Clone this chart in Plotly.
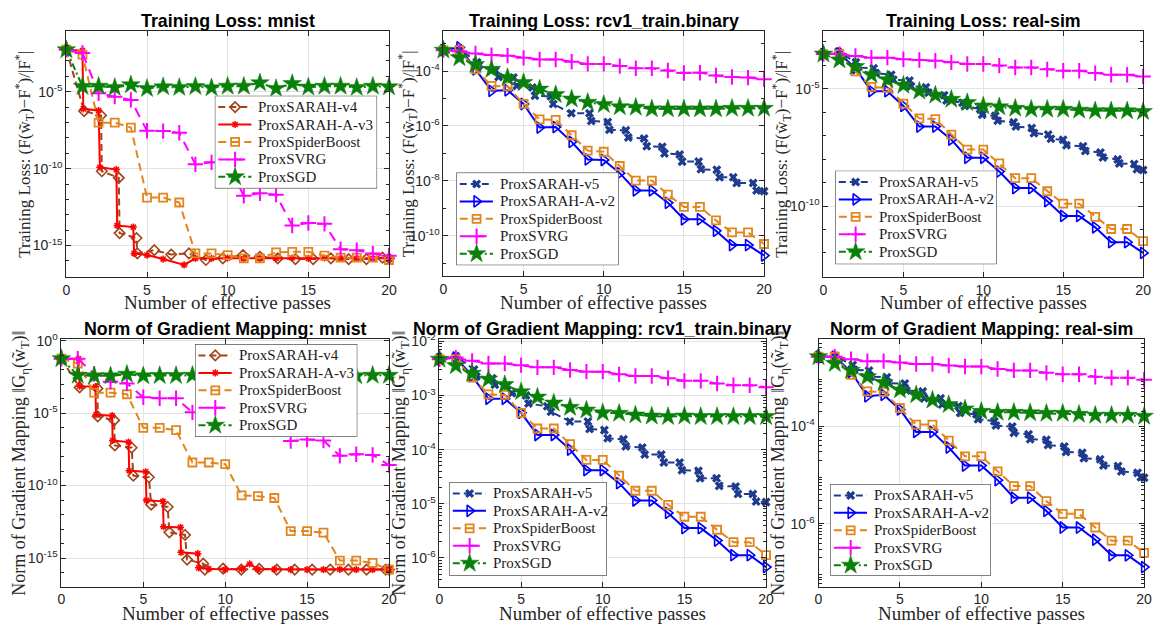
import numpy as np
import plotly.graph_objects as go

W, H = 1163, 625
passes = list(range(21))

# ---------------- data (log10 of values) ----------------
# Panel A: Training Loss, mnist
A_v4_x = [0, 1.1, 2.15, 2.2, 3.25, 3.3, 4.35, 4.4, 5.45, 6.5, 7.6, 8.65, 9.7, 10.95, 12.0, 13.1, 14.2, 15.3, 16.4, 17.5, 18.6, 19.6, 20]
A_v4_y = [-2.27, -6.26, -6.54, -10.17, -10.60, -14.19, -14.51, -15.51, -15.30, -15.58, -15.51, -15.94, -15.83, -15.62, -15.73, -15.83, -15.88, -15.88, -15.83, -15.88, -15.88, -15.79, -15.83]
A_Av3_x = [0, 1.0, 1.05, 2.0, 2.08, 3.1, 3.15, 4.15, 4.2, 5.0, 6.0, 7.3, 8.0, 9, 10, 11, 12, 13, 14, 15, 16, 17, 18, 19, 20]
A_Av3_y = [-2.27, -2.33, -6.11, -6.22, -9.91, -10.06, -13.70, -13.80, -15.51, -15.62, -15.88, -16.26, -15.83, -15.83, -15.81, -15.85, -15.83, -15.83, -15.81, -15.83, -15.81, -15.83, -15.83, -15.83, -15.83]
A_spider_y = [-2.27, -2.59, -7.01, -7.01, -7.33, -11.88, -11.88, -12.20, -15.51, -15.51, -15.62, -15.83, -15.83, -15.45, -15.41, -15.41, -15.66, -15.79, -15.79, -15.79, -15.94]
A_svrg_y = [-2.27, -2.48, -5.10, -5.32, -5.53, -7.54, -7.56, -7.67, -9.72, -9.59, -9.65, -11.77, -11.60, -11.69, -13.70, -13.53, -13.59, -15.24, -15.30, -15.51, -15.66]
A_sgd_y = [-2.27, -4.66, -4.64, -4.72, -4.55, -4.79, -4.68, -4.72, -4.66, -4.74, -4.64, -4.64, -4.42, -4.79, -4.47, -4.70, -4.64, -4.64, -4.72, -4.64, -4.68]

# Panel B: Training Loss, rcv1_train.binary
B_v5_x = [0, 0.97, 2.1, 2.2, 3.24, 3.44, 4.37, 4.58, 5.55, 5.71, 6.7, 6.85, 7.98, 9.11, 9.22, 10.25, 10.35, 11.38, 11.53, 12.52, 12.68, 13.65, 13.79, 14.74, 14.89, 15.92, 16.06, 17.05, 17.22, 18.08, 18.29, 19.32, 19.53, 20]
B_v5_y = [-3.24, -3.18, -3.68, -3.80, -3.98, -4.22, -4.24, -4.54, -4.60, -4.90, -4.92, -5.20, -5.54, -5.54, -5.82, -5.86, -6.14, -6.16, -6.42, -6.46, -6.74, -6.76, -7.00, -7.04, -7.30, -7.30, -7.58, -7.60, -7.87, -7.87, -8.08, -8.08, -8.35, -8.38]
B_Av2_y = [-3.24, -3.14, -3.94, -4.72, -4.70, -5.20, -6.06, -6.04, -6.58, -7.22, -7.24, -7.72, -8.35, -8.35, -8.80, -9.40, -9.40, -9.82, -10.34, -10.34, -10.72]
B_spider_y = [-3.24, -3.24, -3.94, -4.54, -4.56, -5.20, -5.76, -5.78, -6.34, -6.90, -6.94, -7.46, -7.99, -7.99, -8.50, -8.95, -8.95, -9.44, -9.88, -9.88, -10.30]
B_svrg_y = [-3.24, -3.28, -3.36, -3.42, -3.44, -3.52, -3.58, -3.58, -3.66, -3.74, -3.74, -3.82, -3.90, -3.90, -3.98, -4.07, -4.06, -4.16, -4.22, -4.24, -4.30]
B_sgd_y = [-3.24, -3.52, -3.76, -3.94, -4.24, -4.42, -4.66, -4.86, -5.02, -5.14, -5.22, -5.30, -5.32, -5.38, -5.38, -5.38, -5.38, -5.38, -5.36, -5.36, -5.36]

# Panel C: Training Loss, real-sim
C_v5_x = [0, 0.93, 2.03, 2.13, 3.14, 3.27, 4.24, 4.37, 5.38, 5.48, 6.41, 6.57, 7.55, 7.7, 8.7, 8.85, 9.8, 9.93, 10.75, 10.9, 11.9, 12.04, 13.03, 13.17, 14.06, 14.23, 14.99, 15.2, 16.24, 16.38, 17.33, 17.48, 18.41, 18.51, 19.44, 19.61, 20]
C_v5_y = [-3.52, -3.42, -3.87, -4.09, -4.12, -4.33, -4.40, -4.61, -4.65, -4.89, -4.93, -5.17, -5.27, -5.50, -5.59, -5.73, -5.87, -6.11, -6.15, -6.36, -6.43, -6.61, -6.67, -6.89, -6.95, -7.13, -7.17, -7.41, -7.45, -7.65, -7.72, -7.93, -8.01, -8.18, -8.21, -8.43, -8.46]
C_Av2_y = [-3.52, -3.49, -4.12, -5.10, -5.10, -5.73, -6.61, -6.61, -7.17, -7.94, -7.94, -8.53, -9.23, -9.23, -9.79, -10.42, -10.42, -10.91, -11.54, -11.54, -12.00]
C_spider_y = [-3.52, -3.52, -4.26, -4.92, -4.96, -5.63, -6.26, -6.29, -6.95, -7.59, -7.59, -8.18, -8.81, -8.81, -9.37, -9.90, -9.90, -10.46, -10.98, -10.98, -11.50]
C_svrg_y = [-3.52, -3.52, -3.60, -3.67, -3.67, -3.74, -3.77, -3.80, -3.87, -3.94, -3.94, -4.01, -4.09, -4.09, -4.17, -4.23, -4.23, -4.33, -4.40, -4.40, -4.47]
C_sgd_y = [-3.52, -3.77, -4.05, -4.40, -4.61, -4.85, -5.10, -5.27, -5.45, -5.59, -5.73, -5.77, -5.83, -5.87, -5.87, -5.87, -5.91, -5.94, -5.94, -5.94, -5.97]

# Panel D: Norm of Gradient Mapping, mnist
D_v4_x = [0, 1.11, 2.2, 2.22, 3.22, 3.26, 4.29, 4.39, 5.34, 5.48, 6.49, 6.59, 7.55, 7.67, 8.66, 8.76, 9.87, 10.98, 12.08, 13.15, 14.24, 15.31, 16.41, 17.52, 18.63, 19.8, 20]
D_v4_y = [-1.25, -3.23, -3.30, -5.23, -5.50, -7.23, -7.39, -9.32, -9.43, -11.32, -11.48, -13.23, -13.41, -15.11, -15.39, -15.80, -15.73, -15.80, -15.75, -15.80, -15.80, -15.80, -15.80, -15.80, -15.80, -15.80, -15.80]
D_Av3_x = [0, 1.05, 1.11, 2.08, 2.11, 3.1, 3.13, 4.1, 4.14, 5.15, 5.19, 6.2, 6.24, 7.27, 7.3, 8.33, 8.38, 9, 10, 11, 11.5, 12, 13, 14, 15, 16, 17, 18, 19, 20]
D_Av3_y = [-1.25, -1.25, -3.14, -3.18, -5.11, -5.18, -6.89, -7.0, -8.98, -9.05, -11.02, -11.09, -12.84, -12.89, -14.61, -14.70, -15.68, -15.75, -15.80, -15.75, -15.41, -15.78, -15.78, -15.80, -15.80, -15.80, -15.78, -15.80, -15.80, -15.80]
D_spider_y = [-1.25, -1.59, -3.59, -3.59, -3.70, -6.02, -6.02, -6.18, -8.41, -8.41, -8.52, -10.68, -10.73, -10.86, -13.14, -13.14, -13.25, -15.18, -15.18, -15.34, -15.80]
D_svrg_y = [-1.25, -1.25, -2.30, -2.84, -2.95, -3.91, -3.98, -3.98, -4.95, -4.98, -5.00, -5.91, -5.93, -6.00, -6.93, -6.82, -6.89, -7.95, -7.84, -7.89, -8.59]
D_sgd_y = [-1.25, -2.39, -2.43, -2.43, -2.32, -2.43, -2.41, -2.41, -2.39, -2.43, -2.41, -2.41, -2.39, -2.41, -2.41, -2.41, -2.41, -2.41, -2.43, -2.39, -2.39]

# Panel E: Norm of Gradient Mapping, rcv1_train.binary
E_v5_x = [0, 1.0, 2.12, 2.26, 3.23, 3.39, 4.14, 4.44, 5.3, 5.45, 6.6, 6.83, 7.98, 9.09, 9.19, 10.1, 10.3, 11.27, 11.41, 12.42, 12.57, 13.58, 13.74, 14.71, 14.85, 15.86, 15.96, 16.97, 17.13, 18.14, 18.28, 19.19, 19.39, 20]
E_v5_y = [-2.33, -2.27, -2.52, -2.65, -2.68, -2.80, -2.82, -2.96, -3.00, -3.15, -3.20, -3.30, -3.48, -3.48, -3.62, -3.64, -3.79, -3.81, -3.94, -3.96, -4.09, -4.09, -4.24, -4.24, -4.38, -4.39, -4.53, -4.53, -4.67, -4.68, -4.82, -4.82, -4.96, -4.97]
E_Av2_y = [-2.33, -2.30, -2.64, -3.06, -3.06, -3.32, -3.73, -3.73, -4.00, -4.38, -4.38, -4.62, -4.94, -4.94, -5.17, -5.45, -5.45, -5.68, -5.95, -5.95, -6.17]
E_spider_y = [-2.33, -2.33, -2.67, -2.98, -2.99, -3.32, -3.61, -3.61, -3.90, -4.19, -4.19, -4.48, -4.76, -4.76, -5.02, -5.24, -5.24, -5.48, -5.71, -5.71, -5.95]
E_svrg_y = [-2.33, -2.30, -2.36, -2.41, -2.41, -2.44, -2.48, -2.48, -2.53, -2.56, -2.56, -2.61, -2.64, -2.64, -2.68, -2.73, -2.73, -2.78, -2.81, -2.81, -2.85]
E_sgd_y = [-2.33, -2.45, -2.59, -2.70, -2.80, -2.93, -3.03, -3.14, -3.22, -3.27, -3.32, -3.33, -3.36, -3.38, -3.39, -3.38, -3.39, -3.39, -3.39, -3.39, -3.39]

# Panel F: Norm of Gradient Mapping, real-sim
F_v5_x = [0, 1.0, 2.1, 2.2, 3.1, 3.2, 4.2, 4.3, 5.3, 5.4, 6.4, 6.5, 7.5, 7.6, 8.6, 8.7, 9.7, 9.8, 10.8, 10.9, 11.9, 12.0, 12.9, 13.0, 14.0, 14.1, 15.1, 15.2, 16.2, 16.3, 17.3, 17.5, 18.4, 18.6, 19.6, 19.8, 20]
F_v5_y = [-2.58, -2.56, -2.75, -2.85, -2.86, -2.99, -3.00, -3.12, -3.13, -3.27, -3.29, -3.43, -3.43, -3.56, -3.59, -3.73, -3.76, -3.86, -3.90, -3.99, -4.01, -4.14, -4.17, -4.27, -4.28, -4.39, -4.42, -4.53, -4.55, -4.66, -4.68, -4.81, -4.82, -4.93, -4.96, -5.05, -5.06]
F_Av2_y = [-2.58, -2.58, -2.89, -3.39, -3.36, -3.66, -4.12, -4.12, -4.44, -4.81, -4.81, -5.11, -5.47, -5.47, -5.74, -6.08, -6.08, -6.33, -6.65, -6.65, -6.89]
F_spider_y = [-2.58, -2.58, -2.95, -3.29, -3.30, -3.63, -3.97, -3.97, -4.30, -4.62, -4.62, -4.93, -5.23, -5.23, -5.54, -5.80, -5.80, -6.08, -6.35, -6.35, -6.60]
F_svrg_y = [-2.58, -2.58, -2.63, -2.67, -2.67, -2.70, -2.73, -2.73, -2.76, -2.78, -2.78, -2.83, -2.86, -2.86, -2.91, -2.94, -2.94, -2.99, -3.01, -3.01, -3.05]
F_sgd_y = [-2.58, -2.72, -2.86, -2.99, -3.11, -3.26, -3.36, -3.47, -3.56, -3.65, -3.70, -3.72, -3.72, -3.73, -3.74, -3.74, -3.76, -3.78, -3.78, -3.78, -3.80]

titles = ["Training Loss: mnist", "Training Loss: rcv1_train.binary", "Training Loss: real-sim",
          "Norm of Gradient Mapping: mnist", "Norm of Gradient Mapping: rcv1_train.binary",
          "Norm of Gradient Mapping: real-sim"]
x_tick_vals = [0, 5, 10, 15, 20]
y_tick_exps = [[-15, -10, -5], [-10, -8, -6, -4], [-10, -5],
               [-15, -10, -5, 0], [-6, -5, -4, -3, -2], [-6, -4]]
xlabel = "Number of effective passes"
ylabel_loss = "Training Loss: (F(w̃<sub>T</sub>)−F<sup>*</sup>)/|F<sup>*</sup>|"
ylabel_grad = "Norm of Gradient Mapping ‖G<sub>η</sub>(w̃<sub>T</sub>)‖"

# ---------------- styles ----------------
BROWN, RED, ORANGE, MAG, GREEN, NAVY, BLUE = "#A2431A", "#FF0000", "#E2851C", "#FF00FF", "#0A800A", "#1F3B8E", "#0000FF"
STY = {
    "ProxSARAH-v4": dict(color=BROWN, dash="7px,4px", symbol="diamond-open", size=8, mlw=1.6),
    "ProxSARAH-A-v3": dict(color=RED, dash="solid", symbol="asterisk-open", size=6, mlw=1.5),
    "ProxSpiderBoost": dict(color=ORANGE, dash="8px,5px", symbol="square-open", size=8, mlw=1.8),
    "ProxSVRG": dict(color=MAG, dash="10px,7px", symbol="cross-thin-open", size=11, mlw=2),
    "ProxSGD": dict(color=GREEN, dash="7px,3px,2px,3px", symbol="star", size=14, mlw=0.5),
    "ProxSARAH-v5": dict(color=NAVY, dash="7px,4px", symbol="x", size=8, mlw=0),
    "ProxSARAH-A-v2": dict(color=BLUE, dash="solid", symbol="triangle-right-open", size=10, mlw=1.6),
}

panels = [
    dict(series=[("ProxSARAH-v4", A_v4_x, A_v4_y), ("ProxSARAH-A-v3", A_Av3_x, A_Av3_y),
                 ("ProxSpiderBoost", passes, A_spider_y), ("ProxSVRG", passes, A_svrg_y), ("ProxSGD", passes, A_sgd_y)],
         px=(63, 389), py=(22, 272), yr=(-17.05, -1.03), minor="dec", ylab=ylabel_loss, ylx=21,
         leg=(213, 88, 164, 94)),
    dict(series=[("ProxSARAH-v5", B_v5_x, B_v5_y), ("ProxSARAH-A-v2", passes, B_Av2_y),
                 ("ProxSpiderBoost", passes, B_spider_y), ("ProxSVRG", passes, B_svrg_y), ("ProxSGD", passes, B_sgd_y)],
         px=(444, 768), py=(22, 271), yr=(-11.47, -2.53), minor="dec", ylab=ylabel_loss, ylx=408,
         leg=(457, 166, 164, 94)),
    dict(series=[("ProxSARAH-v5", C_v5_x, C_v5_y), ("ProxSARAH-A-v2", passes, C_Av2_y),
                 ("ProxSpiderBoost", passes, C_spider_y), ("ProxSVRG", passes, C_svrg_y), ("ProxSGD", passes, C_sgd_y)],
         px=(828, 1151), py=(22, 272), yr=(-13.03, -2.52), minor="dec", ylab=ylabel_loss, ylx=786,
         leg=(840, 164, 163, 95)),
    dict(series=[("ProxSARAH-v4", D_v4_x, D_v4_y), ("ProxSARAH-A-v3", D_Av3_x, D_Av3_y),
                 ("ProxSpiderBoost", passes, D_spider_y), ("ProxSVRG", passes, D_svrg_y), ("ProxSGD", passes, D_sgd_y)],
         px=(58, 389), py=(335, 586), yr=(-16.97, 0.1), minor="dec", ylab=ylabel_grad, ylx=17,
         leg=(193, 340, 164, 94)),
    dict(series=[("ProxSARAH-v5", E_v5_x, E_v5_y), ("ProxSARAH-A-v2", passes, E_Av2_y),
                 ("ProxSpiderBoost", passes, E_spider_y), ("ProxSVRG", passes, E_svrg_y), ("ProxSGD", passes, E_sgd_y)],
         px=(440, 770), py=(335, 586), yr=(-6.53, -1.96), minor="sub", ylab=ylabel_grad, ylx=401,
         leg=(450, 480, 159, 95)),
    dict(series=[("ProxSARAH-v5", F_v5_x, F_v5_y), ("ProxSARAH-A-v2", passes, F_Av2_y),
                 ("ProxSpiderBoost", passes, F_spider_y), ("ProxSVRG", passes, F_svrg_y), ("ProxSGD", passes, F_sgd_y)],
         px=(823, 1152), py=(335, 586), yr=(-7.29, -2.22), minor="sub", ylab=ylabel_grad, ylx=784,
         leg=(835, 482, 162, 93)),
]

AXC = "#262626"
GRID = "#E3E3E3"
TICKFONT = dict(family="Liberation Sans, Arial, sans-serif", size=14, color=AXC)
SERIF = "Liberation Serif, DejaVu Serif, serif"

fig = go.Figure()
layout = dict(width=W, height=H, margin=dict(l=0, r=0, t=0, b=0),
              paper_bgcolor="white", plot_bgcolor="white", showlegend=False, annotations=[])

# main data panels
for i, p in enumerate(panels):
    k = "" if i == 0 else str(i + 1)
    for name, xs, ys in p["series"]:
        s = STY[name]
        fig.add_trace(go.Scatter(
            x=xs, y=(10.0 ** np.array(ys)).tolist(), name=name, mode="lines+markers",
            xaxis="x" + k, yaxis="y" + k, cliponaxis=False, showlegend=False,
            line=dict(color=s["color"], width=2, dash=s["dash"]),
            marker=dict(symbol=s["symbol"], size=s["size"], color=s["color"],
                        line=dict(color=s["color"], width=s["mlw"])),
        ))
    x0, x1 = p["px"]
    y0, y1 = p["py"]
    exps = y_tick_exps[i]
    lo, hi = p["yr"]
    if p["minor"] == "dec":
        mvals = [10.0 ** e for e in range(int(np.floor(lo)), int(np.ceil(hi)) + 1) if e not in exps]
    else:
        mvals = [m * 10.0 ** e for e in range(int(np.floor(lo)) - 1, int(np.ceil(hi)) + 1) for m in range(2, 10)]
    layout["xaxis" + k] = dict(
        domain=[x0 / W, x1 / W], anchor="y" + k, range=[0, 20], tickvals=x_tick_vals,
        ticks="inside", ticklen=5, tickcolor=AXC, showline=True, linecolor=AXC, linewidth=1,
        mirror="ticks", showgrid=True, gridcolor=GRID, zeroline=False, tickfont=TICKFONT)
    layout["yaxis" + k] = dict(
        domain=[1 - y1 / H, 1 - y0 / H], anchor="x" + k, type="log", range=[lo, hi],
        tickvals=[10.0 ** e for e in exps], ticktext=["10<sup>%d</sup>" % e for e in exps],
        ticks="inside", ticklen=5, tickcolor=AXC, showline=True, linecolor=AXC, linewidth=1,
        mirror="ticks", showgrid=True, gridcolor=GRID, zeroline=False, tickfont=TICKFONT,
        minor=dict(tickvals=mvals, ticks="inside", ticklen=3, tickcolor=AXC, showgrid=False))
    cx = (x0 + x1) / 2
    ty = 12 if i < 3 else 325
    layout["annotations"].append(dict(
        text="<b>%s</b>" % titles[i], x=cx / W, y=1 - ty / H, xref="paper", yref="paper",
        xanchor="center", yanchor="middle", showarrow=False,
        font=dict(family="Liberation Sans, Arial, sans-serif", size=17.8, color="black")))
    xly = 298 if i < 3 else 613
    layout["annotations"].append(dict(
        text=xlabel, x=cx / W, y=1 - xly / H, xref="paper", yref="paper",
        xanchor="center", yanchor="middle", showarrow=False,
        font=dict(family=SERIF, size=19, color=AXC)))
    layout["annotations"].append(dict(
        text=p["ylab"], x=p["ylx"] / W, y=1 - ((y0 + y1) / 2) / H, xref="paper", yref="paper",
        xanchor="center", yanchor="middle", showarrow=False, textangle=-90,
        font=dict(family=SERIF, size=18 if i >= 3 else 17, color=AXC)))

# legend boxes (drawn on overlay axes, one per panel, laid out in pixel units)
for i, p in enumerate(panels):
    n = 7 + i
    lk = str(n)
    lx, ly, lw, lh = p["leg"]
    layout["xaxis" + lk] = dict(domain=[lx / W, (lx + lw) / W], range=[0, lw], anchor="y" + lk,
                                visible=False, showgrid=False, zeroline=False, fixedrange=True)
    layout["yaxis" + lk] = dict(domain=[1 - (ly + lh) / H, 1 - ly / H], range=[lh, 0], anchor="x" + lk,
                                visible=False, showgrid=False, zeroline=False, fixedrange=True)
    fig.add_trace(go.Scatter(x=[0, lw, lw, 0, 0], y=[0, 0, lh, lh, 0], mode="lines", fill="toself",
                             fillcolor="white", line=dict(color=AXC, width=1), showlegend=False,
                             xaxis="x" + lk, yaxis="y" + lk, hoverinfo="skip", cliponaxis=False))
    for r, (name, _, _) in enumerate(p["series"]):
        s = STY[name]
        yc = 11.5 + 17.7 * r
        fig.add_trace(go.Scatter(x=[3.5, 37], y=[yc, yc], mode="lines", showlegend=False,
                                 line=dict(color=s["color"], width=2, dash=s["dash"]),
                                 xaxis="x" + lk, yaxis="y" + lk, hoverinfo="skip", cliponaxis=False))
        fig.add_trace(go.Scatter(x=[20.5], y=[yc], mode="markers", showlegend=False,
                                 marker=dict(symbol=s["symbol"], size=s["size"], color=s["color"],
                                             line=dict(color=s["color"], width=s["mlw"])),
                                 xaxis="x" + lk, yaxis="y" + lk, hoverinfo="skip", cliponaxis=False))
        layout["annotations"].append(dict(
            text=name, x=42, y=yc, xref="x" + lk, yref="y" + lk, xanchor="left", yanchor="middle",
            showarrow=False, font=dict(family=SERIF, size=15, color="#1a1a1a")))

fig.update_layout(**layout)
fig.write_html("out.html")
